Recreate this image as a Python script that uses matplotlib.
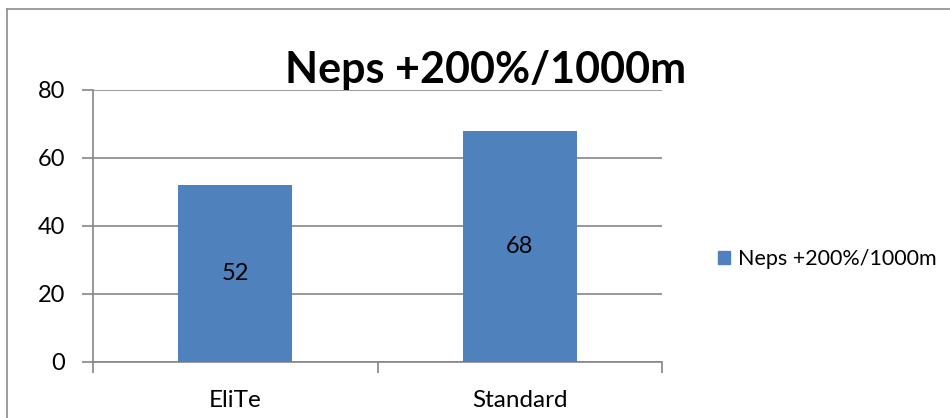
import matplotlib.pyplot as plt
from matplotlib.lines import Line2D
from matplotlib.patches import Patch

categories = ["EliTe", "Standard"]
values = [52, 68]
series_name = "Neps +200%/1000m"
y_ticks = [0, 20, 40, 60, 80]

BAR_COLOR = "#4F81BD"
GRID_COLOR = "#868686"

plt.rcParams["font.family"] = ["Lato", "DejaVu Sans"]

fig = plt.figure(figsize=(9.5, 4.18), dpi=100)
ax = fig.add_axes([93 / 950, 1 - 362 / 418, (662 - 93) / 950, (362 - 90) / 418])

x = list(range(len(categories)))
bars = ax.bar(x, values, width=0.4, color=BAR_COLOR, zorder=3)
for b, v in zip(bars, values):
    ax.text(b.get_x() + b.get_width() / 2, v / 2, str(v), ha="center", va="center",
            fontsize=17, color="black", zorder=4)

ax.set_xlim(-0.5, len(categories) - 0.5)
ax.set_ylim(0, 80)
ax.set_yticks(y_ticks)
ax.set_yticklabels([str(t) for t in y_ticks], fontsize=17)
ax.yaxis.grid(True, color=GRID_COLOR, linewidth=1.2, zorder=0)

# category boundaries carry the ticks, labels sit in the middle
ax.set_xticks([i - 0.5 for i in range(len(categories) + 1)])
ax.set_xticklabels([])
ax.set_xticks(x, minor=True)
ax.set_xticklabels(categories, minor=True, fontsize=17.5)
ax.tick_params(axis="x", which="minor", length=0, pad=20)
ax.tick_params(axis="x", which="major", length=8, width=1.2, color=GRID_COLOR, direction="out")
ax.tick_params(axis="y", length=8, width=1.2, color=GRID_COLOR, direction="out", pad=12)

for side in ["top", "right"]:
    ax.spines[side].set_visible(False)
for side in ["left", "bottom"]:
    ax.spines[side].set_color(GRID_COLOR)
    ax.spines[side].set_linewidth(1.2)

fig.text(486 / 950, 1 - 70 / 418, series_name, ha="center", va="center",
         fontsize=31, fontweight="bold")

fig.legend(handles=[Patch(color=BAR_COLOR, label=series_name)],
           loc="center left", bbox_to_anchor=(712 / 950, 1 - 259 / 418),
           frameon=False, fontsize=15.5, handlelength=0.55, handleheight=0.55,
           handletextpad=0.35, borderpad=0, borderaxespad=0.3)

# outer chart frame (top and left edges visible)
fig.add_artist(Line2D([7 / 950, 1.0], [1 - 9 / 418] * 2, color="#8c8c8c", linewidth=1.2,
                      transform=fig.transFigure))
fig.add_artist(Line2D([7 / 950] * 2, [0, 1 - 9 / 418], color="#8c8c8c", linewidth=1.2,
                      transform=fig.transFigure))

fig.savefig("out.png", dpi=100)
